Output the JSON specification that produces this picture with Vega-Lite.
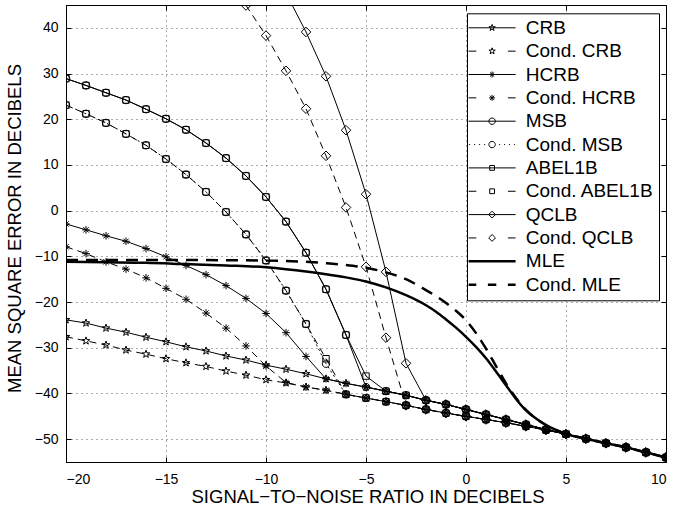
{
"$schema":"https://vega.github.io/schema/vega-lite/v6.json",
"width":600,"height":457,"autosize":"none",
"padding":{"left":66,"top":5,"right":9,"bottom":46},
"background":"white",
"config":{"view":{"stroke":"black","strokeWidth":1},"font":"Liberation Sans",
"axis":{"labelFont":"Liberation Sans","labelFontSize":14,"labelColor":"black","titleFont":"Liberation Sans","titleFontSize":18.5,"titleFontWeight":"normal","titleColor":"black","tickColor":"black","tickSize":-5,"tickWidth":1,"domainColor":"black","domainWidth":1,"gridColor":"black","gridOpacity":0.65,"gridDash":[1,4],"gridWidth":1}},
"datasets":{
"bounds":[
{"s":"CRB","x":-20,"y":-23.9},{"s":"CRB","x":-19,"y":-24.6},{"s":"CRB","x":-18,"y":-25.7},{"s":"CRB","x":-17,"y":-26.6},{"s":"CRB","x":-16,"y":-27.7},{"s":"CRB","x":-15,"y":-28.7},{"s":"CRB","x":-14,"y":-29.8},{"s":"CRB","x":-13,"y":-30.7},{"s":"CRB","x":-12,"y":-31.8},{"s":"CRB","x":-11,"y":-32.7},{"s":"CRB","x":-10,"y":-33.8},{"s":"CRB","x":-9,"y":-34.7},{"s":"CRB","x":-8,"y":-35.7},{"s":"CRB","x":-7,"y":-36.8},{"s":"CRB","x":-6,"y":-37.8},{"s":"CRB","x":-5,"y":-38.6},{"s":"CRB","x":-4,"y":-39.5},{"s":"CRB","x":-3,"y":-40.4},{"s":"CRB","x":-2,"y":-41.5},{"s":"CRB","x":-1,"y":-42.4},{"s":"CRB","x":0,"y":-43.5},{"s":"CRB","x":1,"y":-44.6},{"s":"CRB","x":2,"y":-45.7},{"s":"CRB","x":3,"y":-46.8},{"s":"CRB","x":4,"y":-47.9},{"s":"CRB","x":5,"y":-48.9},{"s":"CRB","x":6,"y":-49.9},{"s":"CRB","x":7,"y":-50.9},{"s":"CRB","x":8,"y":-51.8},{"s":"CRB","x":9,"y":-52.9},{"s":"CRB","x":10,"y":-54.0},
{"s":"Cond. CRB","x":-20,"y":-27.6},{"s":"Cond. CRB","x":-19,"y":-28.5},{"s":"Cond. CRB","x":-18,"y":-29.4},{"s":"Cond. CRB","x":-17,"y":-30.5},{"s":"Cond. CRB","x":-16,"y":-31.4},{"s":"Cond. CRB","x":-15,"y":-32.4},{"s":"Cond. CRB","x":-14,"y":-33.3},{"s":"Cond. CRB","x":-13,"y":-34.1},{"s":"Cond. CRB","x":-12,"y":-35.1},{"s":"Cond. CRB","x":-11,"y":-36.0},{"s":"Cond. CRB","x":-10,"y":-37.0},{"s":"Cond. CRB","x":-9,"y":-37.7},{"s":"Cond. CRB","x":-8,"y":-38.6},{"s":"Cond. CRB","x":-7,"y":-39.3},{"s":"Cond. CRB","x":-6,"y":-40.2},{"s":"Cond. CRB","x":-5,"y":-41.0},{"s":"Cond. CRB","x":-4,"y":-41.8},{"s":"Cond. CRB","x":-3,"y":-42.6},{"s":"Cond. CRB","x":-2,"y":-43.5},{"s":"Cond. CRB","x":-1,"y":-44.3},{"s":"Cond. CRB","x":0,"y":-45.0},{"s":"Cond. CRB","x":1,"y":-45.7},{"s":"Cond. CRB","x":2,"y":-46.4},{"s":"Cond. CRB","x":3,"y":-47.2},{"s":"Cond. CRB","x":4,"y":-48.0},{"s":"Cond. CRB","x":5,"y":-48.9},{"s":"Cond. CRB","x":6,"y":-49.9},{"s":"Cond. CRB","x":7,"y":-50.9},{"s":"Cond. CRB","x":8,"y":-51.8},{"s":"Cond. CRB","x":9,"y":-52.9},{"s":"Cond. CRB","x":10,"y":-54.0},
{"s":"HCRB","x":-20,"y":-2.9},{"s":"HCRB","x":-19,"y":-4.2},{"s":"HCRB","x":-18,"y":-5.5},{"s":"HCRB","x":-17,"y":-6.7},{"s":"HCRB","x":-16,"y":-8.3},{"s":"HCRB","x":-15,"y":-10.1},{"s":"HCRB","x":-14,"y":-12.0},{"s":"HCRB","x":-13,"y":-14.0},{"s":"HCRB","x":-12,"y":-16.4},{"s":"HCRB","x":-11,"y":-19.2},{"s":"HCRB","x":-10,"y":-22.5},{"s":"HCRB","x":-9,"y":-26.7},{"s":"HCRB","x":-8,"y":-31.9},{"s":"HCRB","x":-7,"y":-36.8},{"s":"HCRB","x":-6,"y":-37.8},{"s":"HCRB","x":-5,"y":-38.6},{"s":"HCRB","x":-4,"y":-39.5},{"s":"HCRB","x":-3,"y":-40.4},{"s":"HCRB","x":-2,"y":-41.5},{"s":"HCRB","x":-1,"y":-42.4},{"s":"HCRB","x":0,"y":-43.5},{"s":"HCRB","x":1,"y":-44.6},{"s":"HCRB","x":2,"y":-45.7},{"s":"HCRB","x":3,"y":-46.8},{"s":"HCRB","x":4,"y":-47.9},{"s":"HCRB","x":5,"y":-48.9},{"s":"HCRB","x":6,"y":-49.9},{"s":"HCRB","x":7,"y":-50.9},{"s":"HCRB","x":8,"y":-51.8},{"s":"HCRB","x":9,"y":-52.9},{"s":"HCRB","x":10,"y":-54.0},
{"s":"Cond. HCRB","x":-20,"y":-7.9},{"s":"Cond. HCRB","x":-19,"y":-9.4},{"s":"Cond. HCRB","x":-18,"y":-11.2},{"s":"Cond. HCRB","x":-17,"y":-12.8},{"s":"Cond. HCRB","x":-16,"y":-14.7},{"s":"Cond. HCRB","x":-15,"y":-17.0},{"s":"Cond. HCRB","x":-14,"y":-19.4},{"s":"Cond. HCRB","x":-13,"y":-22.4},{"s":"Cond. HCRB","x":-12,"y":-25.7},{"s":"Cond. HCRB","x":-11,"y":-29.6},{"s":"Cond. HCRB","x":-10,"y":-34.0},{"s":"Cond. HCRB","x":-9,"y":-37.6},{"s":"Cond. HCRB","x":-8,"y":-38.6},{"s":"Cond. HCRB","x":-7,"y":-39.3},{"s":"Cond. HCRB","x":-6,"y":-40.2},{"s":"Cond. HCRB","x":-5,"y":-41.0},{"s":"Cond. HCRB","x":-4,"y":-41.8},{"s":"Cond. HCRB","x":-3,"y":-42.6},{"s":"Cond. HCRB","x":-2,"y":-43.5},{"s":"Cond. HCRB","x":-1,"y":-44.3},{"s":"Cond. HCRB","x":0,"y":-45.0},{"s":"Cond. HCRB","x":1,"y":-45.7},{"s":"Cond. HCRB","x":2,"y":-46.4},{"s":"Cond. HCRB","x":3,"y":-47.2},{"s":"Cond. HCRB","x":4,"y":-48.0},{"s":"Cond. HCRB","x":5,"y":-48.9},{"s":"Cond. HCRB","x":6,"y":-49.9},{"s":"Cond. HCRB","x":7,"y":-50.9},{"s":"Cond. HCRB","x":8,"y":-51.8},{"s":"Cond. HCRB","x":9,"y":-52.9},{"s":"Cond. HCRB","x":10,"y":-54.0},
{"s":"MSB","x":-20,"y":28.9},{"s":"MSB","x":-19,"y":27.4},{"s":"MSB","x":-18,"y":25.8},{"s":"MSB","x":-17,"y":24.2},{"s":"MSB","x":-16,"y":22.2},{"s":"MSB","x":-15,"y":20.1},{"s":"MSB","x":-14,"y":17.7},{"s":"MSB","x":-13,"y":14.8},{"s":"MSB","x":-12,"y":11.5},{"s":"MSB","x":-11,"y":7.6},{"s":"MSB","x":-10,"y":3.0},{"s":"MSB","x":-9,"y":-2.4},{"s":"MSB","x":-8,"y":-9.2},{"s":"MSB","x":-7,"y":-17.2},{"s":"MSB","x":-6,"y":-27.2},{"s":"MSB","x":-5,"y":-38.6},{"s":"MSB","x":-4,"y":-39.5},{"s":"MSB","x":-3,"y":-40.4},{"s":"MSB","x":-2,"y":-41.5},{"s":"MSB","x":-1,"y":-42.4},{"s":"MSB","x":0,"y":-43.5},{"s":"MSB","x":1,"y":-44.6},{"s":"MSB","x":2,"y":-45.7},{"s":"MSB","x":3,"y":-46.8},{"s":"MSB","x":4,"y":-47.9},{"s":"MSB","x":5,"y":-48.9},{"s":"MSB","x":6,"y":-49.9},{"s":"MSB","x":7,"y":-50.9},{"s":"MSB","x":8,"y":-51.8},{"s":"MSB","x":9,"y":-52.9},{"s":"MSB","x":10,"y":-54.0},
{"s":"Cond. MSB","x":-20,"y":23.1},{"s":"Cond. MSB","x":-19,"y":21.2},{"s":"Cond. MSB","x":-18,"y":19.2},{"s":"Cond. MSB","x":-17,"y":16.8},{"s":"Cond. MSB","x":-16,"y":14.3},{"s":"Cond. MSB","x":-15,"y":11.3},{"s":"Cond. MSB","x":-14,"y":7.9},{"s":"Cond. MSB","x":-13,"y":4.1},{"s":"Cond. MSB","x":-12,"y":-0.3},{"s":"Cond. MSB","x":-11,"y":-5.2},{"s":"Cond. MSB","x":-10,"y":-10.9},{"s":"Cond. MSB","x":-9,"y":-17.5},{"s":"Cond. MSB","x":-8,"y":-24.8},{"s":"Cond. MSB","x":-7,"y":-33.5},{"s":"Cond. MSB","x":-6,"y":-40.2},{"s":"Cond. MSB","x":-5,"y":-41.0},{"s":"Cond. MSB","x":-4,"y":-41.8},{"s":"Cond. MSB","x":-3,"y":-42.6},{"s":"Cond. MSB","x":-2,"y":-43.5},{"s":"Cond. MSB","x":-1,"y":-44.3},{"s":"Cond. MSB","x":0,"y":-45.0},{"s":"Cond. MSB","x":1,"y":-45.7},{"s":"Cond. MSB","x":2,"y":-46.4},{"s":"Cond. MSB","x":3,"y":-47.2},{"s":"Cond. MSB","x":4,"y":-48.0},{"s":"Cond. MSB","x":5,"y":-48.9},{"s":"Cond. MSB","x":6,"y":-49.9},{"s":"Cond. MSB","x":7,"y":-50.9},{"s":"Cond. MSB","x":8,"y":-51.8},{"s":"Cond. MSB","x":9,"y":-52.9},{"s":"Cond. MSB","x":10,"y":-54.0},
{"s":"ABEL1B","x":-20,"y":28.9},{"s":"ABEL1B","x":-19,"y":27.4},{"s":"ABEL1B","x":-18,"y":25.8},{"s":"ABEL1B","x":-17,"y":24.2},{"s":"ABEL1B","x":-16,"y":22.2},{"s":"ABEL1B","x":-15,"y":20.1},{"s":"ABEL1B","x":-14,"y":17.7},{"s":"ABEL1B","x":-13,"y":14.8},{"s":"ABEL1B","x":-12,"y":11.5},{"s":"ABEL1B","x":-11,"y":7.6},{"s":"ABEL1B","x":-10,"y":3.0},{"s":"ABEL1B","x":-9,"y":-2.4},{"s":"ABEL1B","x":-8,"y":-9.2},{"s":"ABEL1B","x":-7,"y":-17.2},{"s":"ABEL1B","x":-6,"y":-27.2},{"s":"ABEL1B","x":-5,"y":-36.2},{"s":"ABEL1B","x":-4,"y":-39.5},{"s":"ABEL1B","x":-3,"y":-40.4},{"s":"ABEL1B","x":-2,"y":-41.5},{"s":"ABEL1B","x":-1,"y":-42.4},{"s":"ABEL1B","x":0,"y":-43.5},{"s":"ABEL1B","x":1,"y":-44.6},{"s":"ABEL1B","x":2,"y":-45.7},{"s":"ABEL1B","x":3,"y":-46.8},{"s":"ABEL1B","x":4,"y":-47.9},{"s":"ABEL1B","x":5,"y":-48.9},{"s":"ABEL1B","x":6,"y":-49.9},{"s":"ABEL1B","x":7,"y":-50.9},{"s":"ABEL1B","x":8,"y":-51.8},{"s":"ABEL1B","x":9,"y":-52.9},{"s":"ABEL1B","x":10,"y":-54.0},
{"s":"Cond. ABEL1B","x":-20,"y":23.1},{"s":"Cond. ABEL1B","x":-19,"y":21.2},{"s":"Cond. ABEL1B","x":-18,"y":19.2},{"s":"Cond. ABEL1B","x":-17,"y":16.8},{"s":"Cond. ABEL1B","x":-16,"y":14.3},{"s":"Cond. ABEL1B","x":-15,"y":11.3},{"s":"Cond. ABEL1B","x":-14,"y":7.9},{"s":"Cond. ABEL1B","x":-13,"y":4.1},{"s":"Cond. ABEL1B","x":-12,"y":-0.3},{"s":"Cond. ABEL1B","x":-11,"y":-5.2},{"s":"Cond. ABEL1B","x":-10,"y":-10.9},{"s":"Cond. ABEL1B","x":-9,"y":-17.5},{"s":"Cond. ABEL1B","x":-8,"y":-24.8},{"s":"Cond. ABEL1B","x":-7,"y":-32.4},{"s":"Cond. ABEL1B","x":-6,"y":-40.2},{"s":"Cond. ABEL1B","x":-5,"y":-41.0},{"s":"Cond. ABEL1B","x":-4,"y":-41.8},{"s":"Cond. ABEL1B","x":-3,"y":-42.6},{"s":"Cond. ABEL1B","x":-2,"y":-43.5},{"s":"Cond. ABEL1B","x":-1,"y":-44.3},{"s":"Cond. ABEL1B","x":0,"y":-45.0},{"s":"Cond. ABEL1B","x":1,"y":-45.7},{"s":"Cond. ABEL1B","x":2,"y":-46.4},{"s":"Cond. ABEL1B","x":3,"y":-47.2},{"s":"Cond. ABEL1B","x":4,"y":-48.0},{"s":"Cond. ABEL1B","x":5,"y":-48.9},{"s":"Cond. ABEL1B","x":6,"y":-49.9},{"s":"Cond. ABEL1B","x":7,"y":-50.9},{"s":"Cond. ABEL1B","x":8,"y":-51.8},{"s":"Cond. ABEL1B","x":9,"y":-52.9},{"s":"Cond. ABEL1B","x":10,"y":-54.0},
{"s":"QCLB","x":-9,"y":47.6},{"s":"QCLB","x":-8,"y":39.1},{"s":"QCLB","x":-7,"y":29.4},{"s":"QCLB","x":-6,"y":17.6},{"s":"QCLB","x":-5,"y":3.6},{"s":"QCLB","x":-4,"y":-13.4},{"s":"QCLB","x":-3,"y":-33.4},{"s":"QCLB","x":-2,"y":-41.5},{"s":"QCLB","x":-1,"y":-42.4},{"s":"QCLB","x":0,"y":-43.5},{"s":"QCLB","x":1,"y":-44.6},{"s":"QCLB","x":2,"y":-45.7},{"s":"QCLB","x":3,"y":-46.8},{"s":"QCLB","x":4,"y":-47.9},{"s":"QCLB","x":5,"y":-48.9},{"s":"QCLB","x":6,"y":-49.9},{"s":"QCLB","x":7,"y":-50.9},{"s":"QCLB","x":8,"y":-51.8},{"s":"QCLB","x":9,"y":-52.9},{"s":"QCLB","x":10,"y":-54.0},
{"s":"Cond. QCLB","x":-12,"y":51.5},{"s":"Cond. QCLB","x":-11,"y":44.9},{"s":"Cond. QCLB","x":-10,"y":38.3},{"s":"Cond. QCLB","x":-9,"y":30.6},{"s":"Cond. QCLB","x":-8,"y":22.3},{"s":"Cond. QCLB","x":-7,"y":12.0},{"s":"Cond. QCLB","x":-6,"y":0.7},{"s":"Cond. QCLB","x":-5,"y":-12.3},{"s":"Cond. QCLB","x":-4,"y":-27.8},{"s":"Cond. QCLB","x":-3,"y":-42.6},{"s":"Cond. QCLB","x":-2,"y":-43.5},{"s":"Cond. QCLB","x":-1,"y":-44.3},{"s":"Cond. QCLB","x":0,"y":-45.0},{"s":"Cond. QCLB","x":1,"y":-45.7},{"s":"Cond. QCLB","x":2,"y":-46.4},{"s":"Cond. QCLB","x":3,"y":-47.2},{"s":"Cond. QCLB","x":4,"y":-48.0},{"s":"Cond. QCLB","x":5,"y":-48.9},{"s":"Cond. QCLB","x":6,"y":-49.9},{"s":"Cond. QCLB","x":7,"y":-50.9},{"s":"Cond. QCLB","x":8,"y":-51.8},{"s":"Cond. QCLB","x":9,"y":-52.9},{"s":"Cond. QCLB","x":10,"y":-54.0}
],
"mle":[
{"s":"MLE","x":-20,"y":-11.2},{"s":"MLE","x":-18,"y":-11.3},{"s":"MLE","x":-16,"y":-11.4},{"s":"MLE","x":-14,"y":-11.7},{"s":"MLE","x":-12,"y":-12.0},{"s":"MLE","x":-10,"y":-12.4},{"s":"MLE","x":-9,"y":-12.8},{"s":"MLE","x":-8,"y":-13.3},{"s":"MLE","x":-7,"y":-13.9},{"s":"MLE","x":-6,"y":-14.6},{"s":"MLE","x":-5,"y":-15.5},{"s":"MLE","x":-4,"y":-16.8},{"s":"MLE","x":-3,"y":-18.5},{"s":"MLE","x":-2,"y":-20.7},{"s":"MLE","x":-1.5,"y":-22.1},{"s":"MLE","x":-1,"y":-23.8},{"s":"MLE","x":-0.5,"y":-25.6},{"s":"MLE","x":0,"y":-27.6},{"s":"MLE","x":0.5,"y":-29.8},{"s":"MLE","x":1,"y":-32.3},{"s":"MLE","x":1.5,"y":-35.2},{"s":"MLE","x":2,"y":-38.2},{"s":"MLE","x":2.5,"y":-41.2},{"s":"MLE","x":3,"y":-43.7},{"s":"MLE","x":3.5,"y":-45.5},{"s":"MLE","x":4,"y":-46.9},{"s":"MLE","x":4.5,"y":-48.0},{"s":"MLE","x":5,"y":-48.9},{"s":"MLE","x":6,"y":-49.9},{"s":"MLE","x":7,"y":-50.9},{"s":"MLE","x":8,"y":-51.8},{"s":"MLE","x":9,"y":-52.9},{"s":"MLE","x":10,"y":-54.0},
{"s":"Cond. MLE","x":-20,"y":-10.8},{"s":"Cond. MLE","x":-15,"y":-10.8},{"s":"Cond. MLE","x":-10,"y":-10.9},{"s":"Cond. MLE","x":-8,"y":-11.2},{"s":"Cond. MLE","x":-7,"y":-11.5},{"s":"Cond. MLE","x":-6,"y":-11.9},{"s":"Cond. MLE","x":-5,"y":-12.5},{"s":"Cond. MLE","x":-4,"y":-13.5},{"s":"Cond. MLE","x":-3,"y":-15.0},{"s":"Cond. MLE","x":-2,"y":-17.4},{"s":"Cond. MLE","x":-1.5,"y":-18.7},{"s":"Cond. MLE","x":-1,"y":-20.2},{"s":"Cond. MLE","x":-0.5,"y":-21.9},{"s":"Cond. MLE","x":0,"y":-24.0},{"s":"Cond. MLE","x":0.5,"y":-26.8},{"s":"Cond. MLE","x":1,"y":-30.2},{"s":"Cond. MLE","x":1.5,"y":-34.0},{"s":"Cond. MLE","x":2,"y":-37.8},{"s":"Cond. MLE","x":2.5,"y":-41.0},{"s":"Cond. MLE","x":3,"y":-43.6},{"s":"Cond. MLE","x":3.5,"y":-45.5},{"s":"Cond. MLE","x":4,"y":-46.9},{"s":"Cond. MLE","x":4.5,"y":-48.0},{"s":"Cond. MLE","x":5,"y":-48.9},{"s":"Cond. MLE","x":6,"y":-49.9},{"s":"Cond. MLE","x":7,"y":-50.9},{"s":"Cond. MLE","x":8,"y":-51.8},{"s":"Cond. MLE","x":9,"y":-52.9},{"s":"Cond. MLE","x":10,"y":-54.0}
]},
"layer":[
{"data":{"name":"bounds"},
 "transform":[{"filter":{"field":"s","oneOf":["CRB","HCRB","MSB","ABEL1B","QCLB"]}}],
 "mark":{"type":"line","strokeWidth":1,"clip":true},
 "encoding":{
  "x":{"field":"x","type":"quantitative","scale":{"domain":[-20,10],"nice":false,"zero":false},
       "axis":{"orient":"bottom","values":[-20,-15,-10,-5,0,5,10],"grid":true,"title":"SIGNAL−TO−NOISE RATIO IN DECIBELS","labelPadding":26.3,"labelBaseline":"alphabetic","titleX":301.5,"titleY":40,"titleBaseline":"alphabetic"}},
  "y":{"field":"y","type":"quantitative","scale":{"domain":[-55,45],"nice":false,"zero":false},
       "axis":{"orient":"left","values":[-50,-40,-30,-20,-10,0,10,20,30,40],"grid":true,"title":"MEAN SQUARE ERROR IN DECIBELS","labelPadding":13,"titleX":-46,"titleY":223,"titleBaseline":"alphabetic","titleAngle":-90}},
  "color":{"field":"s","type":"nominal",
     "scale":{"domain":["CRB","Cond. CRB","HCRB","Cond. HCRB","MSB","Cond. MSB","ABEL1B","Cond. ABEL1B","QCLB","Cond. QCLB","MLE","Cond. MLE"],"range":["black","black","black","black","black","black","black","black","black","black","black","black"]},
     "legend":{"title":null,"orient":"none","legendX":401,"legendY":8.3,"padding":5,"rowPadding":3.35,"symbolSize":64,"symbolOffset":10.6,"labelOffset":24.2,"labelFont":"Liberation Sans","labelFontSize":19,"labelColor":"black","labelLimit":0,"strokeColor":"black","fillColor":"white","cornerRadius":0,
       "encode":{"symbols":{"update":{
         "shape":{"signal":"['M-5.875,0L5.875,0M0,-0.83L0.195,-0.269L0.789,-0.256L0.315,0.103L0.488,0.671L0,0.332L-0.488,0.671L-0.315,0.103L-0.789,-0.256L-0.195,-0.269Z','M-5.875,0L-3.95,0M3.95,0L5.875,0M0,-0.83L0.195,-0.269L0.789,-0.256L0.315,0.103L0.488,0.671L0,0.332L-0.488,0.671L-0.315,0.103L-0.789,-0.256L-0.195,-0.269Z','M-5.875,0L5.875,0M0,-0.75L0,0.75M-0.75,0L0.75,0M-0.53,-0.53L0.53,0.53M-0.53,0.53L0.53,-0.53','M-5.875,0L-3.95,0M3.95,0L5.875,0M0,-0.75L0,0.75M-0.75,0L0.75,0M-0.53,-0.53L0.53,0.53M-0.53,0.53L0.53,-0.53','M-5.875,0L5.875,0M0.8,0A0.8,0.8,0,1,1,-0.8,0A0.8,0.8,0,1,1,0.8,0Z','M-5.75,0L-5.5,0M-4.5,0L-4.25,0M-3.25,0L-3,0M-2,0L-1.75,0M1.75,0L2,0M3,0L3.25,0M4.25,0L4.5,0M5.5,0L5.75,0M0.8,0A0.8,0.8,0,1,1,-0.8,0A0.8,0.8,0,1,1,0.8,0Z','M-5.875,0L5.875,0M-0.6,-0.6L0.6,-0.6L0.6,0.6L-0.6,0.6Z','M-5.875,0L-3.95,0M3.95,0L5.875,0M-0.6,-0.6L0.6,-0.6L0.6,0.6L-0.6,0.6Z','M-5.875,0L5.875,0M0,-0.85L0.85,0L0,0.85L-0.85,0Z','M-5.875,0L-3.95,0M3.95,0L5.875,0M0,-0.85L0.85,0L0,0.85L-0.85,0Z','M-5.875,0L5.875,0','M-5.875,0L-3.95,0M-1.05,0L1.05,0M3.95,0L5.875,0'][datum.index]"},
         "stroke":{"value":"black"},"fill":{"value":"transparent"},
         "strokeWidth":{"signal":"datum.index >= 10 ? 2.5 : 1"},
         "opacity":{"value":1}}}}}},
  "detail":{"field":"s","type":"nominal"}
 }},
{"data":{"name":"bounds"},
 "transform":[{"filter":{"field":"s","oneOf":["Cond. CRB","Cond. HCRB","Cond. ABEL1B","Cond. QCLB"]}}],
 "mark":{"type":"line","strokeWidth":1,"color":"black","strokeDash":[7,5],"clip":true},
 "encoding":{
  "x":{"field":"x","type":"quantitative","axis":null},
  "y":{"field":"y","type":"quantitative","axis":null},
  "detail":{"field":"s","type":"nominal"}
 }},
{"data":{"name":"bounds"},
 "transform":[{"filter":{"field":"s","oneOf":["Cond. MSB"]}}],
 "mark":{"type":"line","strokeWidth":1,"color":"black","strokeDash":[2,3],"clip":true},
 "encoding":{
  "x":{"field":"x","type":"quantitative","axis":null},
  "y":{"field":"y","type":"quantitative","axis":null}
 }},
{"data":{"name":"mle"},
 "transform":[{"filter":{"field":"s","oneOf":["MLE"]}}],
 "mark":{"type":"line","strokeWidth":2.5,"color":"black","interpolate":"monotone","clip":true},
 "encoding":{
  "x":{"field":"x","type":"quantitative","axis":null},
  "y":{"field":"y","type":"quantitative","axis":null}
 }},
{"data":{"name":"mle"},
 "transform":[{"filter":{"field":"s","oneOf":["Cond. MLE"]}}],
 "mark":{"type":"line","strokeWidth":2.5,"color":"black","strokeDash":[12,8],"interpolate":"monotone","clip":true},
 "encoding":{
  "x":{"field":"x","type":"quantitative","axis":null},
  "y":{"field":"y","type":"quantitative","axis":null}
 }},
{"data":{"name":"bounds"},
 "mark":{"type":"point","filled":false,"size":64,"color":"black","strokeWidth":1,"opacity":1,"clip":true},
 "encoding":{
  "x":{"field":"x","type":"quantitative","axis":{"orient":"top","labels":false,"grid":false,"domain":false,"title":null,"values":[-20,-15,-10,-5,0,5,10]}},
  "y":{"field":"y","type":"quantitative","axis":{"orient":"right","labels":false,"grid":false,"domain":false,"title":null,"values":[-50,-40,-30,-20,-10,0,10,20,30,40]}},
  "shape":{"field":"s","type":"nominal","legend":null,
    "scale":{"domain":["CRB","Cond. CRB","HCRB","Cond. HCRB","MSB","Cond. MSB","ABEL1B","Cond. ABEL1B","QCLB","Cond. QCLB"],
      "range":["M0,-1L0.235,-0.324L0.951,-0.309L0.38,0.124L0.588,0.809L0,0.4L-0.588,0.809L-0.38,0.124L-0.951,-0.309L-0.235,-0.324Z","M0,-1L0.235,-0.324L0.951,-0.309L0.38,0.124L0.588,0.809L0,0.4L-0.588,0.809L-0.38,0.124L-0.951,-0.309L-0.235,-0.324Z","M0,-0.95L0,0.95M-0.95,0L0.95,0M-0.67,-0.67L0.67,0.67M-0.67,0.67L0.67,-0.67","M0,-0.95L0,0.95M-0.95,0L0.95,0M-0.67,-0.67L0.67,0.67M-0.67,0.67L0.67,-0.67","M0.92,0A0.92,0.92,0,1,1,-0.92,0A0.92,0.92,0,1,1,0.92,0Z","M0.92,0A0.92,0.92,0,1,1,-0.92,0A0.92,0.92,0,1,1,0.92,0Z","M-0.8,-0.8L0.8,-0.8L0.8,0.8L-0.8,0.8Z","M-0.8,-0.8L0.8,-0.8L0.8,0.8L-0.8,0.8Z","M0,-1.2L1.2,0L0,1.2L-1.2,0Z","M0,-1.2L1.2,0L0,1.2L-1.2,0Z"]}}
 }}
],
"resolve":{"axis":{"x":"independent","y":"independent"}}
}
